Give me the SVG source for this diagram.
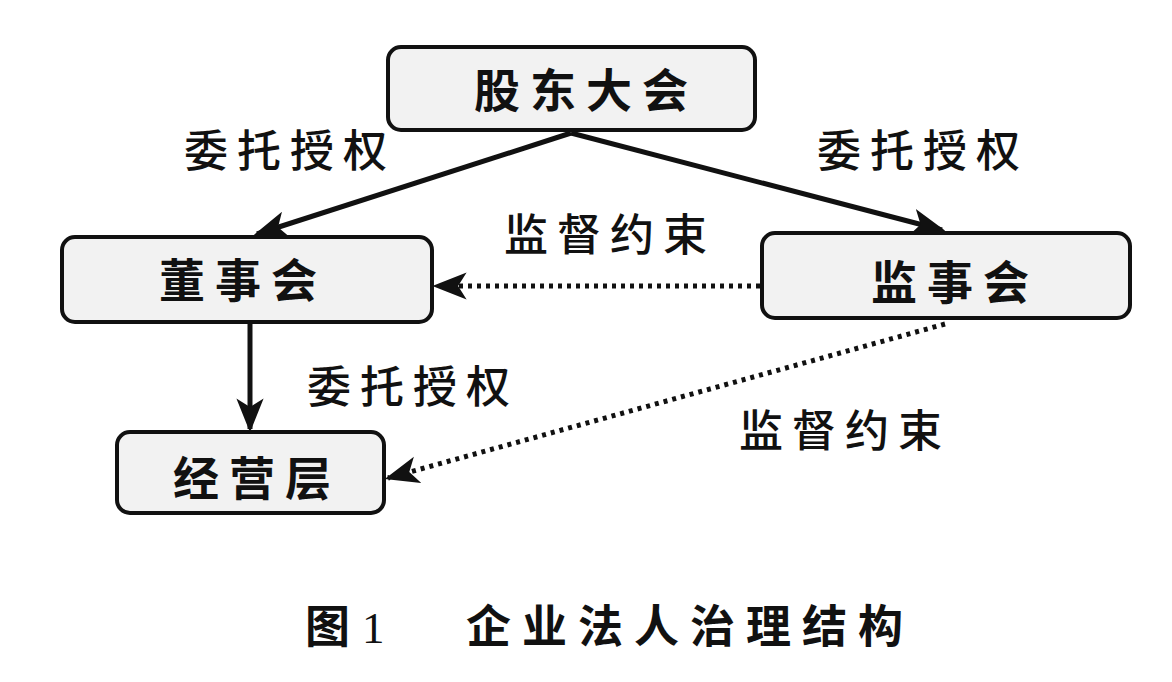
<svg xmlns="http://www.w3.org/2000/svg" width="1172" height="682" viewBox="0 0 1172 682">
<style>
.box{fill:#f2f2f2;stroke:#111;stroke-width:4}
.nt{font-family:"Noto Sans CJK SC","Noto Sans CJK TC",sans-serif;font-size:46px;font-weight:bold;fill:#111;text-anchor:middle;letter-spacing:10px}
.lb{font-family:"Noto Sans CJK SC","Noto Sans CJK TC",sans-serif;font-size:44px;font-weight:500;fill:#111;text-anchor:middle;letter-spacing:9px}
.cap{font-family:"Noto Sans CJK SC","Noto Sans CJK TC",sans-serif;font-size:45px;font-weight:bold;fill:#111;letter-spacing:11px}
.solid{stroke:#111;stroke-width:5;fill:none}
.dot{stroke:#111;stroke-width:5;fill:none;stroke-dasharray:4 5}
</style>
<defs>
<marker id="ahs" viewBox="0 0 20 16" refX="18" refY="8" markerWidth="34" markerHeight="28" markerUnits="userSpaceOnUse" orient="auto">
<path d="M0,0 L20,8 L0,16 L5,8 z" fill="#111"/>
</marker>
</defs>
<rect width="1172" height="682" fill="#fff"/>
<g id="connectors">
<line class="solid" x1="571" y1="133" x2="257" y2="234" marker-end="url(#ahs)"/>
<line class="solid" x1="571" y1="133" x2="942" y2="230" marker-end="url(#ahs)"/>
<line class="solid" x1="250" y1="322" x2="250" y2="429" marker-end="url(#ahs)"/>
<line class="dot" x1="760" y1="286" x2="436" y2="286" marker-end="url(#ahs)"/>
<line class="dot" x1="945" y1="324" x2="388" y2="478" marker-end="url(#ahs)"/>
</g>
<g id="n1"><rect class="box" x="388" y="47" width="367" height="83" rx="13"/><text class="nt" x="586" y="107">股东大会</text></g>
<g id="n2"><rect class="box" x="62" y="237" width="370" height="85" rx="13"/><text class="nt" x="243" y="297">董事会</text></g>
<g id="n3"><rect class="box" x="762" y="233" width="368" height="85" rx="13"/><text class="nt" x="955" y="299">监事会</text></g>
<g id="n4"><rect class="box" x="117" y="432" width="267" height="81" rx="13"/><text class="nt" x="257" y="495">经营层</text></g>
<g id="labels">
<text class="lb" x="290" y="167">委托授权</text>
<text class="lb" x="923" y="167">委托授权</text>
<text class="lb" x="610" y="251">监督约束</text>
<text class="lb" x="413" y="403">委托授权</text>
<text class="lb" x="845" y="447">监督约束</text>
</g>
<text class="cap" x="305" y="643">图<tspan x="362" font-family="Liberation Serif, serif" font-weight="normal">1</tspan><tspan x="466">企业法人治理结构</tspan></text>
</svg>
